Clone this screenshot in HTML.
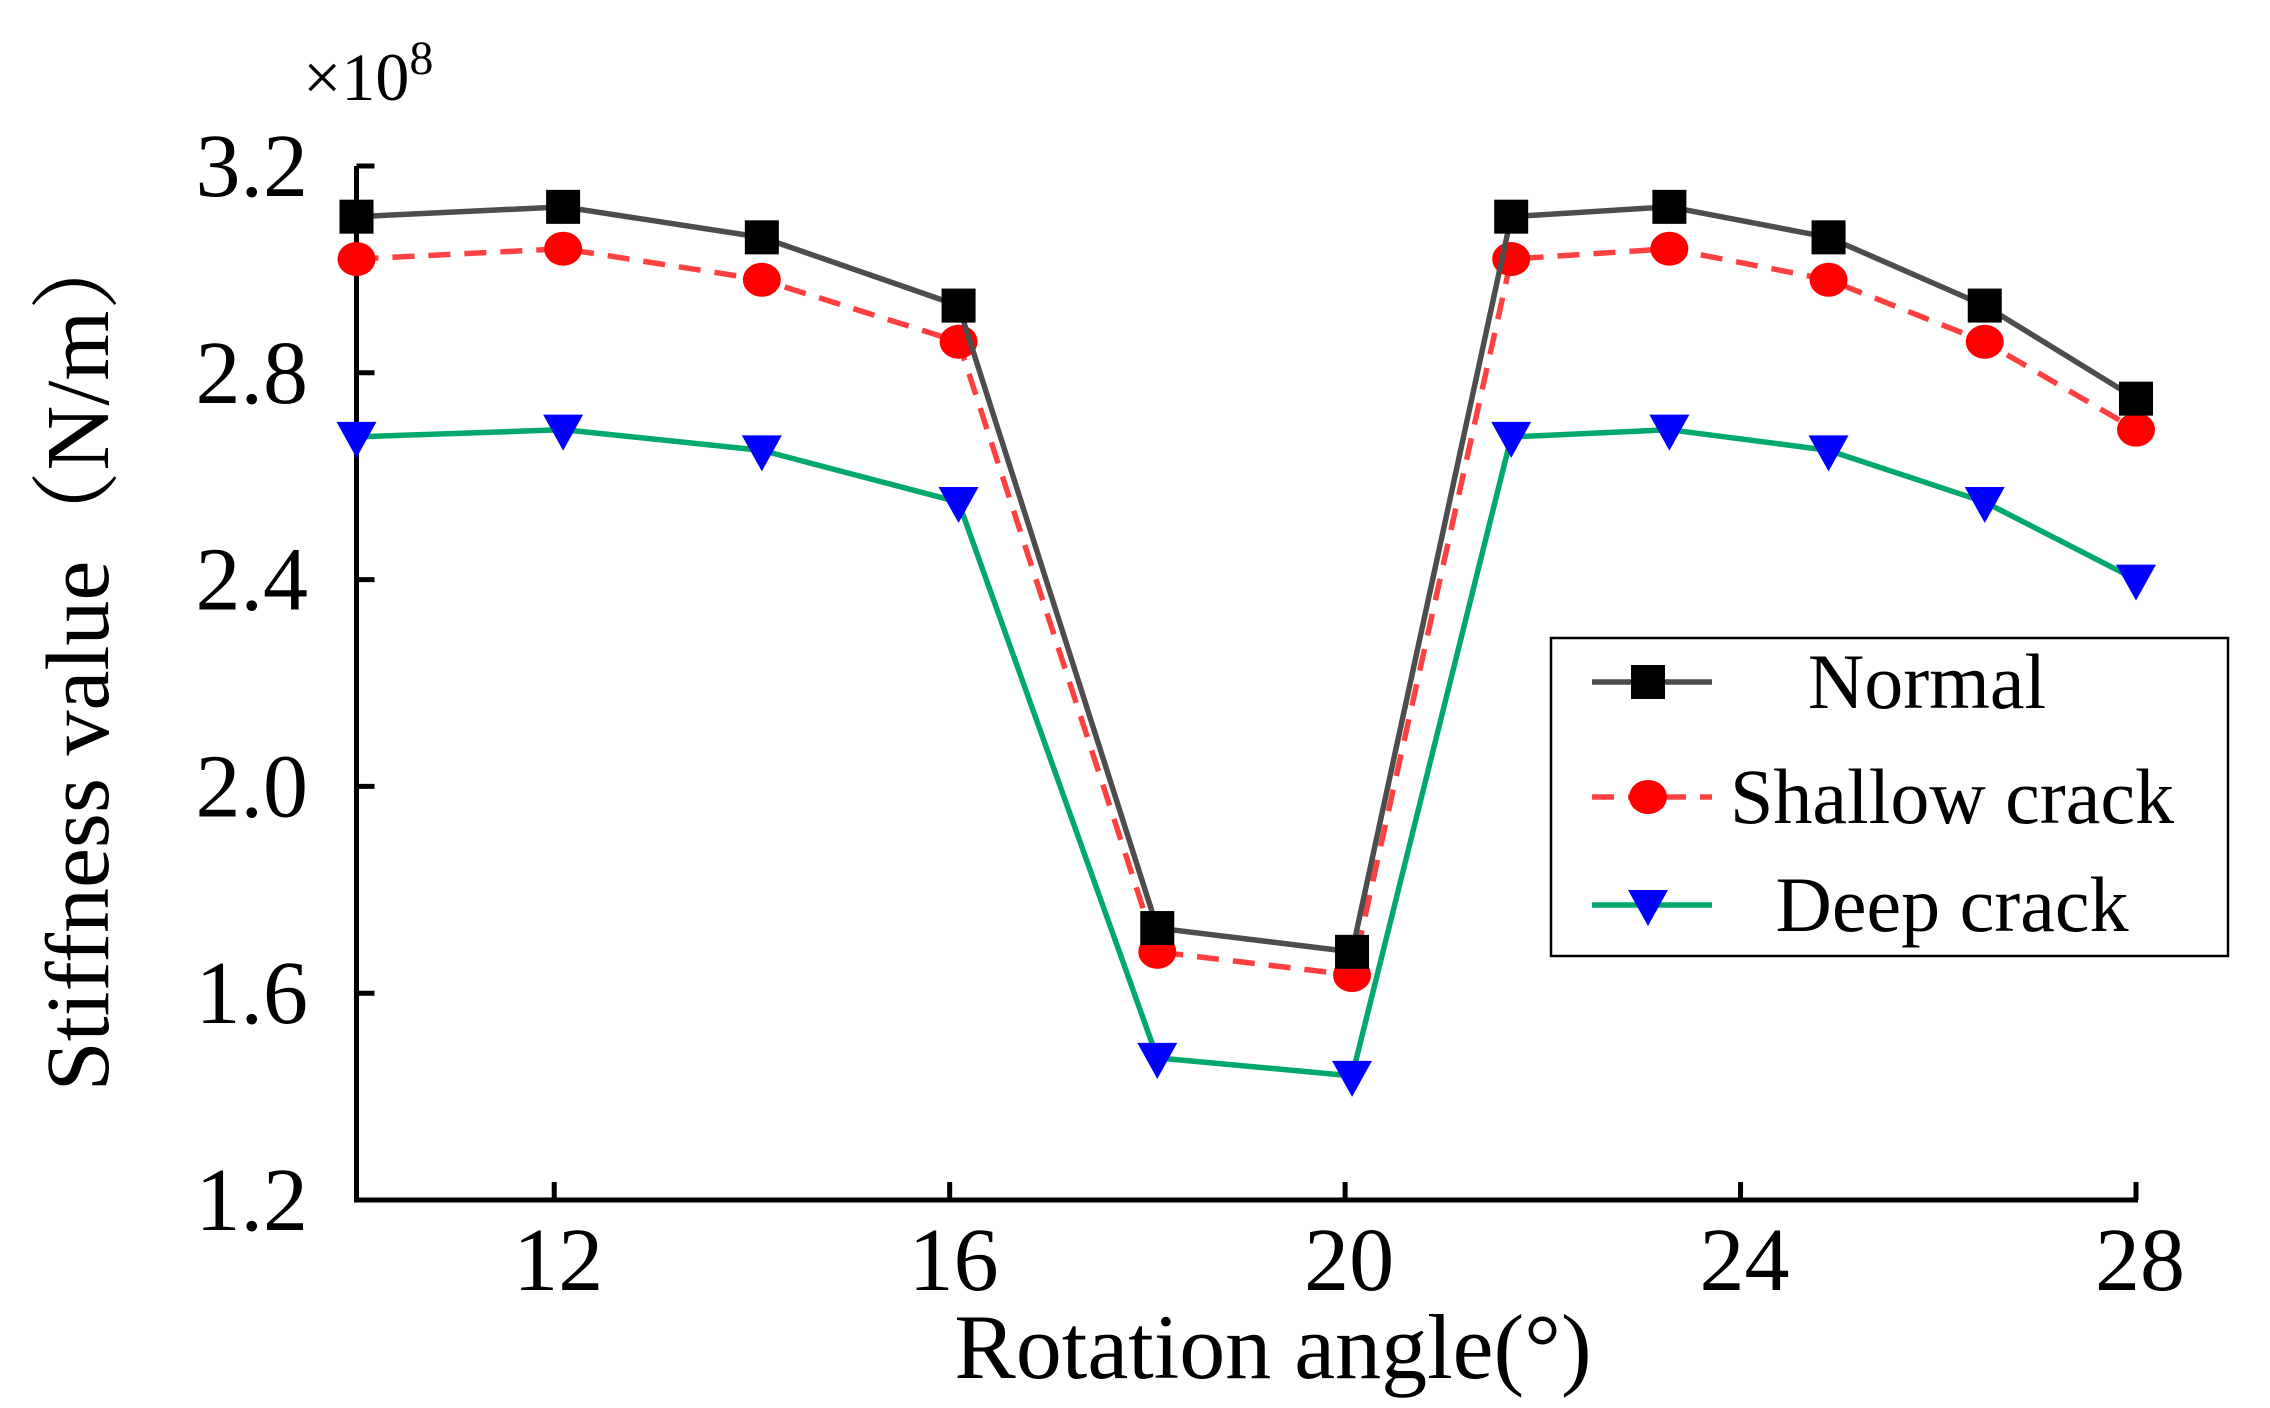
<!DOCTYPE html>
<html><head><meta charset="utf-8"><style>
html,body{margin:0;padding:0;background:#fff}
svg{display:block;font-family:"Liberation Serif","Noto Serif CJK SC",serif}
</style></head><body>
<svg id="chart" width="2270" height="1408" viewBox="0 0 2270 1408" xmlns="http://www.w3.org/2000/svg">
<g id="axes"></g>
<g id="series"></g>
<g id="legend"></g>
</svg>
<script>
const xs = [10.0, 12.09, 14.1, 16.09, 18.1, 20.07, 21.68, 23.28, 24.89, 26.47, 28.0];
const normal = [3.102, 3.121, 3.062, 2.93, 1.726, 1.68, 3.102, 3.121, 3.062, 2.93, 2.75];
const shallow = [3.02, 3.04, 2.98, 2.86, 1.68, 1.635, 3.02, 3.04, 2.98, 2.86, 2.69];
const deep = [2.676, 2.69, 2.65, 2.55, 1.475, 1.44, 2.676, 2.69, 2.65, 2.55, 2.40];
const xTicks = [12, 16, 20, 24, 28];
const yTicks = [1.2, 1.6, 2.0, 2.4, 2.8, 3.2];
const yTickLabels = ["1.2", "1.6", "2.0", "2.4", "2.8", "3.2"];
const seriesNames = ["Normal", "Shallow crack", "Deep crack"];

const NS = "http://www.w3.org/2000/svg";
const L = 356.5, R = 2136, T = 166, B = 1200;
const xMin = 10, xMax = 28, yMin = 1.2, yMax = 3.2;
function sx(v){return L + (v - xMin) / (xMax - xMin) * (R - L);}
function sy(v){return B - (v - yMin) / (yMax - yMin) * (B - T);}
function mk(tag, attrs, parent){const e = document.createElementNS(NS, tag); for (const k in attrs) e.setAttribute(k, attrs[k]); parent.appendChild(e); return e;}

const axes = document.getElementById('axes');
let e;
e = mk('line', {x1:L, y1:T, x2:L, y2:B, stroke:'#000', 'stroke-width':5}, axes);


e = mk('line', {x1:L-2.5, y1:B, x2:R+2, y2:B, stroke:'#000', 'stroke-width':5}, axes);


yTicks.forEach((v, i) => {
  const t = mk('line', {x1:L, y1:sy(v), x2:L+18, y2:sy(v), stroke:'#000', 'stroke-width':5}, axes);
  
  
  const tx = mk('text', {x:308, y:sy(v)+30, 'font-size':90, 'text-anchor':'end', fill:'#000'}, axes);
  tx.textContent = yTickLabels[i];
  
  
});
xTicks.forEach(v => {
  const t = mk('line', {x1:sx(v), y1:B, x2:sx(v), y2:B-18, stroke:'#000', 'stroke-width':5}, axes);
  
  
  const tx = mk('text', {x:sx(v)+4, y:1290, 'font-size':90, 'text-anchor':'middle', fill:'#000'}, axes);
  tx.textContent = String(v);
  
  
});
e = mk('text', {x:1273, y:1378, 'font-size':92, 'text-anchor':'middle', fill:'#000'}, axes);
e.textContent = 'Rotation angle(°)';


e = mk('text', {x:0, y:0, 'font-size':90, 'text-anchor':'middle', fill:'#000', transform:'translate(108,656) rotate(-90)'}, axes);
e.textContent = 'Stiffness value（N/m）';


e = mk('text', {x:303, y:100, 'font-size':68, fill:'#000'}, axes);
e.innerHTML = '×10<tspan dy="-26" font-size="48">8</tspan>';



function marker(kind, cx, cy, parent){
  let m;
  if (kind === 'square') m = mk('rect', {x:cx-17, y:cy-17, width:34, height:34, fill:'#000'}, parent);
  else if (kind === 'circle') m = mk('ellipse', {cx:cx, cy:cy, rx:19, ry:17, fill:'#f00'}, parent);
  else m = mk('polygon', {points:`${cx-20},${cy-15} ${cx+20},${cy-15} ${cx},${cy+21}`, fill:'#00f'}, parent);
  return m;
}
const cfg = [
  {data: normal, color:'#4d4d4d', dash:'', kind:'square', name:'normal'},
  {data: shallow, color:'#ff4040', dash:'22,14', kind:'circle', name:'shallow-crack'},
  {data: deep, color:'#00a86b', dash:'', kind:'triangle', name:'deep-crack'}
];
const series = document.getElementById('series');
[cfg[2], cfg[1], cfg[0]].forEach(c => {
  const g = mk('g', {}, series);
  
  
  const pts = c.data.map((v, i) => sx(xs[i]) + ',' + sy(v)).join(' ');
  const pl = mk('polyline', {points:pts, fill:'none', stroke:c.color, 'stroke-width':5.5, 'stroke-dasharray':c.dash, 'stroke-linejoin':'round'}, g);
  
  
  c.data.forEach((v, i) => {
    const m = marker(c.kind, sx(xs[i]), sy(v), g);
    
    
  });
});

const leg = document.getElementById('legend');
e = mk('rect', {x:1551, y:638, width:677, height:318, fill:'#fff', stroke:'#000', 'stroke-width':2.5}, leg);


const ly = [682, 797, 905];
const lx = [1927, 1952, 1952];
cfg.forEach((c, i) => {
  const g = mk('g', {}, leg);
  
  
  mk('line', {x1:1592, y1:ly[i], x2:1712, y2:ly[i], stroke:c.color, 'stroke-width':5.5, 'stroke-dasharray':c.dash}, g);
  marker(c.kind, 1648, ly[i], g);
  const t = mk('text', {x:lx[i], y:ly[i]+26, 'font-size':78, 'text-anchor':'middle', fill:'#000'}, g);
  t.textContent = seriesNames[i];
});
</script>
</body></html>
